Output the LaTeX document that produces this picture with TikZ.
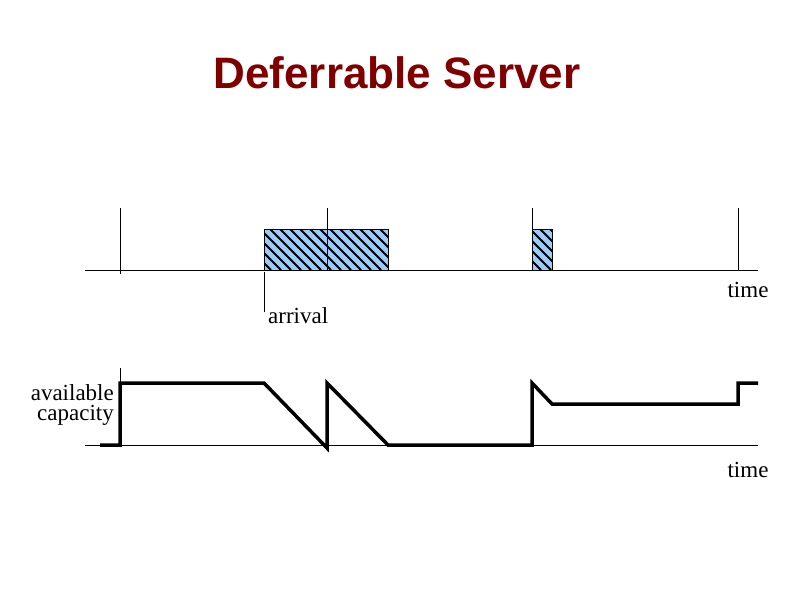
\documentclass[tikz,border=0pt]{standalone}
\usepackage{fontspec}
\setmainfont{Liberation Serif}
\newfontfamily\titlefont{Liberation Sans}
\definecolor{hatchblue}{RGB}{153,204,255}
\definecolor{titlered}{RGB}{128,0,0}
\tikzset{
  thinline/.style={line width=0.8pt},
  capline/.style={line width=3.5pt, line join=miter},
  lbl/.style={font=\fontsize{23}{20}\selectfont, inner sep=0pt},
  jobbox/.style={fill=hatchblue, draw=black, line width=0.8pt}
}
\begin{document}
\begin{tikzpicture}[x=1pt,y=-1pt]
\useasboundingbox (0,0) rectangle (794,595);
\node[font=\titlefont\bfseries\fontsize{44}{50}\selectfont, text=titlered] (title) at (397,73) {Deferrable Server};
% top timeline
\fill[hatchblue] (264,229) rectangle (388,270);
\fill[hatchblue] (532,229) rectangle (552,270);
\begin{scope}
\clip (264,229) rectangle (388,270) (532,229) rectangle (552,270);
\foreach \i in {0,...,34}{
  \draw[line width=2pt] (230+\i*10,229) -- (271+\i*10,270);
}
\end{scope}
\draw[thinline] (264,229) rectangle (388,270);
\draw[thinline] (532,229) rectangle (552,270);
\coordinate (a1) at (85,270); \coordinate (a2) at (758,270);
\draw[thinline] (a1) -- (a2);
\draw[thinline] (120,208) -- (120,274);
\draw[thinline] (327,208) -- (327,270);
\draw[thinline] (532,208) -- (532,270);
\draw[thinline] (738,208) -- (738,270);
\draw[thinline] (264,272) -- (264,312);
\node[lbl] (t1) at (748,290) {time};
\node[lbl, anchor=west] (arr) at (268,316) {arrival};
% bottom
\draw[thinline] (85,445) -- (758,445);
\draw[thinline] (120,368) -- (120,445);
\draw[capline] (100,445) -- (120,445) -- (120,383) -- (264,383) -- (327,448) -- (327,383) -- (388,445) -- (532,445) -- (532,383) -- (552,404) -- (738,404) -- (738,383) -- (758,383);
\node[lbl, align=right, anchor=east] (cap) at (114,405) {available\\capacity};
\node[lbl] (t2) at (748,470) {time};
\end{tikzpicture}
\end{document}
